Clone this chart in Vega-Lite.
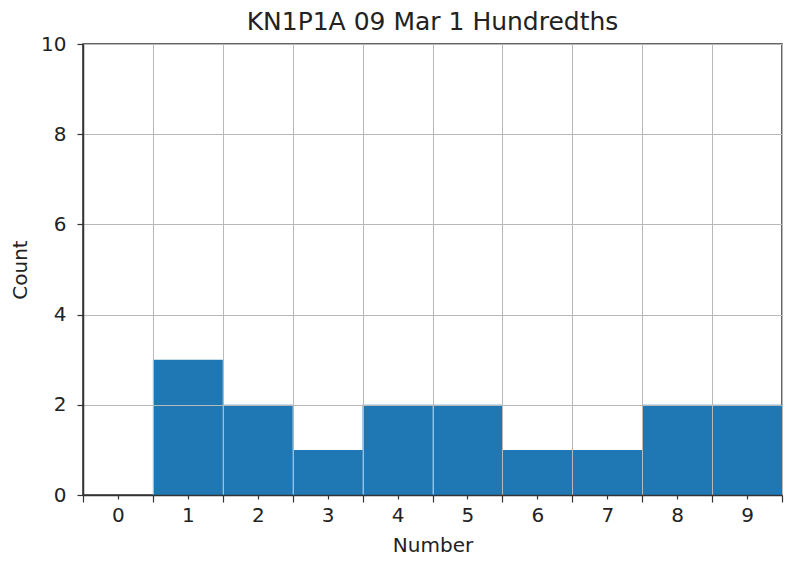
{
  "$schema": "https://vega.github.io/schema/vega-lite/v6.json",
  "width": 699,
  "height": 451,
  "autosize": {"type": "none"},
  "padding": {"left": 83, "top": 44, "right": 9, "bottom": 70},
  "background": "white",
  "config": {
    "font": "DejaVu Sans",
    "view": {"stroke": "#333", "strokeWidth": 1.5},
    "axis": {
      "domainColor": "#333",
      "domainWidth": 1.5,
      "tickColor": "#333",
      "gridColor": "#b8b8b8",
      "gridWidth": 1,
      "labelFont": "DejaVu Sans",
      "labelFontSize": 20,
      "labelColor": "#222",
      "titleFont": "DejaVu Sans",
      "titleFontSize": 20,
      "titleFontWeight": "normal",
      "titleColor": "#222"
    }
  },
  "title": {
    "text": "KN1P1A 09 Mar 1 Hundredths",
    "font": "DejaVu Sans",
    "fontSize": 25,
    "fontWeight": "normal",
    "color": "#222",
    "offset": -1
  },
  "data": {
    "values": [
      {"number": 0, "count": 0},
      {"number": 1, "count": 3},
      {"number": 2, "count": 2},
      {"number": 3, "count": 1},
      {"number": 4, "count": 2},
      {"number": 5, "count": 2},
      {"number": 6, "count": 1},
      {"number": 7, "count": 1},
      {"number": 8, "count": 2},
      {"number": 9, "count": 2}
    ]
  },
  "transform": [
    {"calculate": "datum.number - 0.5", "as": "lo"},
    {"calculate": "datum.number + 0.5", "as": "hi"}
  ],
  "mark": {"type": "bar", "color": "#1f77b4"},
  "encoding": {
    "x": {
      "field": "lo",
      "type": "quantitative",
      "scale": {"domain": [-0.5, 9.5], "nice": false, "zero": false},
      "axis": {
        "title": "Number",
        "titlePadding": 7,
        "zindex": 1,
        "values": [-0.5, 0, 0.5, 1, 1.5, 2, 2.5, 3, 3.5, 4, 4.5, 5, 5.5, 6, 6.5, 7, 7.5, 8, 8.5, 9, 9.5],
        "labelExpr": "datum.value % 1 === 0 ? format(datum.value, 'd') : ''",
        "labelOverlap": false,
        "labelPadding": 6,
        "gridOpacity": {"condition": {"test": "datum.value % 1 !== 0", "value": 1}, "value": 0},
        "tickSize": {"condition": {"test": "datum.value % 1 !== 0", "value": 7}, "value": 4},
        "tickWidth": 1.2
      }
    },
    "x2": {"field": "hi"},
    "y": {
      "field": "count",
      "type": "quantitative",
      "scale": {"domain": [0, 10], "nice": false},
      "axis": {
        "title": "Count",
        "titlePadding": 10,
        "zindex": 1,
        "values": [0, 2, 4, 6, 8, 10],
        "tickSize": 6,
        "tickWidth": 1.2,
        "labelPadding": 11
      }
    },
    "y2": {"datum": 0}
  }
}
